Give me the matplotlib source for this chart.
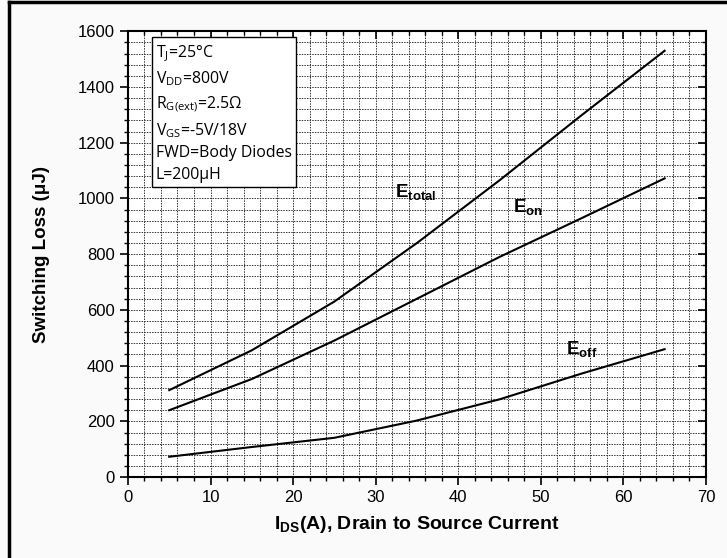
import matplotlib.pyplot as plt
from matplotlib.ticker import MultipleLocator
from matplotlib.lines import Line2D

plt.rcParams['font.family'] = ['Liberation Sans', 'DejaVu Sans']
plt.rcParams['mathtext.fontset'] = 'custom'
plt.rcParams['mathtext.rm'] = 'Liberation Sans'
plt.rcParams['mathtext.bf'] = 'Liberation Sans:bold'

ids = [5, 15, 25, 35, 45, 55, 65]
e_total = [312, 455, 630, 840, 1065, 1300, 1530]
e_on = [240, 352, 490, 640, 790, 930, 1072]
e_off = [73, 108, 141, 203, 279, 372, 459]

cond_lines = ['T$_\\mathregular{J}$=25°C', 'V$_\\mathregular{DD}$=800V',
              'R$_\\mathregular{G(ext)}$=2.5Ω', 'V$_\\mathregular{GS}$=-5V/18V',
              'FWD=Body Diodes', 'L=200μH']

fig = plt.figure(figsize=(7.27, 5.58), dpi=100, facecolor='#fafafa')
ax = fig.add_axes([0.176, 0.145, 0.795, 0.799])
ax.set_facecolor('white')

ax.plot(ids, e_total, color='black', lw=1.5)
ax.plot(ids, e_on, color='black', lw=1.5)
ax.plot(ids, e_off, color='black', lw=1.5)

ax.set_xlim(0, 70)
ax.set_ylim(0, 1600)
ax.xaxis.set_major_locator(MultipleLocator(10))
ax.xaxis.set_minor_locator(MultipleLocator(2))
ax.yaxis.set_major_locator(MultipleLocator(200))
ax.yaxis.set_minor_locator(MultipleLocator(40))

ax.grid(which='both', color='#333333', lw=0.7, linestyle=(0, (1.5, 1.2)))
ax.set_axisbelow(True)

ax.tick_params(axis='both', which='major', labelsize=12, length=6, width=1.2,
               direction='out')
ax.tick_params(axis='both', which='minor', length=3, width=1, direction='out')
# mirrored inward ticks on top/right
ax.tick_params(which='both', top=True, right=True)
for t in ax.xaxis.get_major_ticks() + ax.xaxis.get_minor_ticks():
    t.tick2line.set_marker(3)
for t in ax.yaxis.get_major_ticks() + ax.yaxis.get_minor_ticks():
    t.tick2line.set_marker(0)

for s in ax.spines.values():
    s.set_linewidth(1.5)

ax.set_xlabel('$\\mathbf{I_{DS}}$(A), Drain to Source Current',
              fontsize=14, fontweight='bold', labelpad=6)
ax.set_ylabel('Switching Loss (μJ)', fontsize=13.5, fontweight='bold',
              labelpad=20)

ax.text(34.9, 1023, '$\\mathbf{E_{total}}$', fontsize=13.5,
        ha='center', va='center')
ax.text(48.5, 970, '$\\mathbf{E_{on}}$', fontsize=13.5,
        ha='center', va='center')
ax.text(55, 460, '$\\mathbf{E_{off}}$', fontsize=13.5,
        ha='center', va='center')

ax.text(3.35, 1556, '\n'.join(cond_lines), fontsize=11.4, ha='left', va='top',
        linespacing=1.47, family=['Open Sans', 'DejaVu Sans'],
        bbox=dict(boxstyle='square,pad=0.25', facecolor='white',
                  edgecolor='black', lw=1))

# outer frame (left and top edges visible)
fig.add_artist(Line2D([0.013, 0.013], [0, 0.996], color='black', lw=2.5,
                      transform=fig.transFigure))
fig.add_artist(Line2D([0.013, 1], [0.996, 0.996], color='black', lw=2.5,
                      transform=fig.transFigure))

fig.savefig('out.png', dpi=100, facecolor=fig.get_facecolor())
